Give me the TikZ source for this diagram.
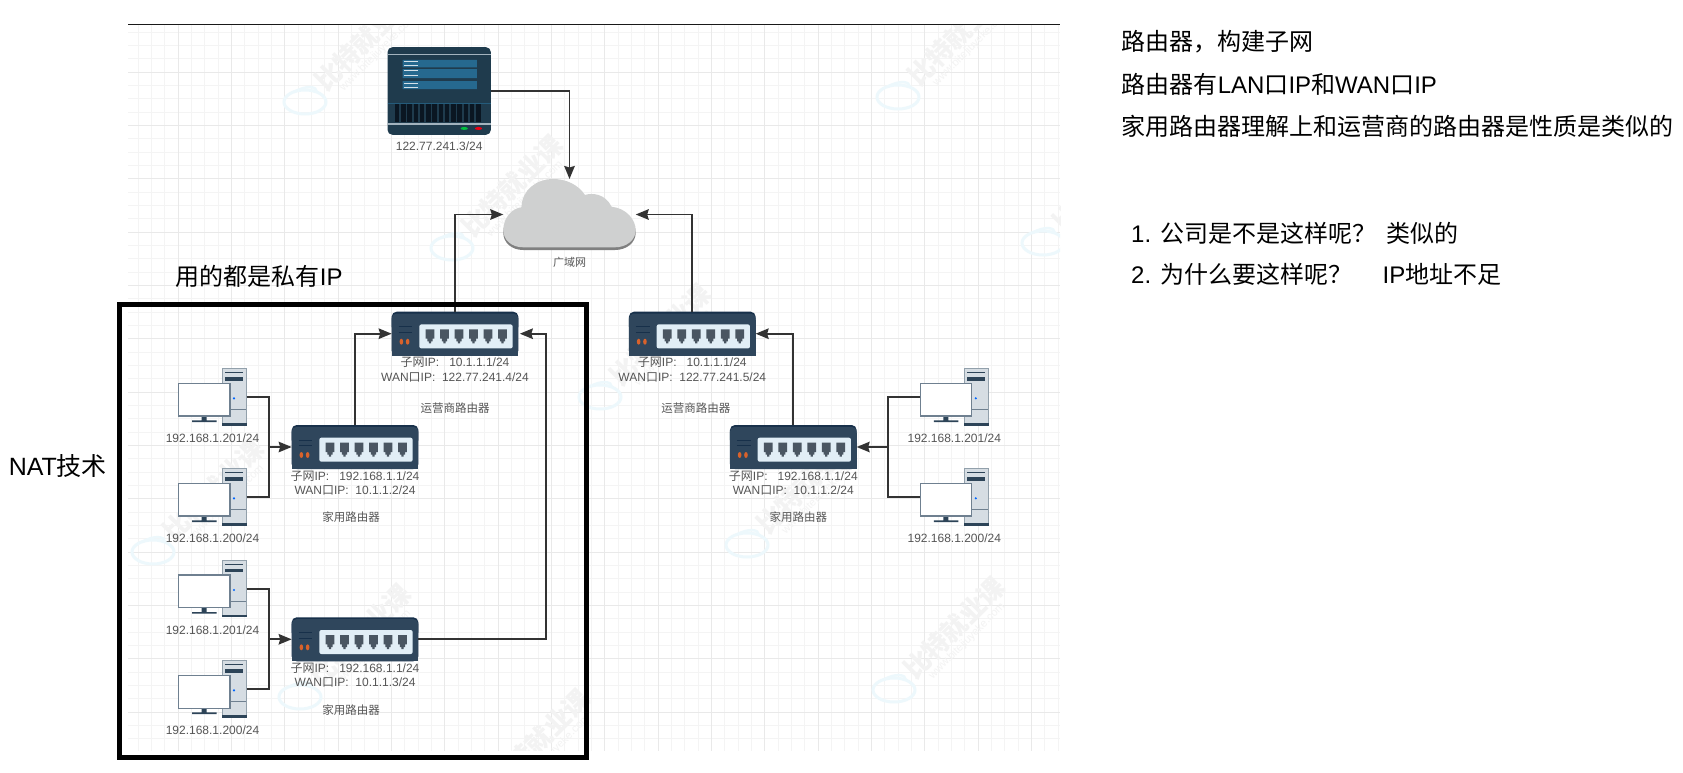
\documentclass[tikz,border=0pt]{standalone}
\usepackage{fontspec}
\usepackage{xcolor}
\usepackage{tikz}
\usetikzlibrary{positioning,arrows.meta}
\setmainfont{Liberation Sans}
\newfontfamily\cjkfont{Noto Sans CJK SC}
\newcommand{\zh}[1]{{\cjkfont #1}}
\definecolor{gridminor}{HTML}{F4F4F4}
\definecolor{gridmajor}{HTML}{E9E9E9}
\definecolor{markgray}{HTML}{F3F3F3}
\definecolor{markblue}{HTML}{EDF8FC}
\definecolor{linegray}{HTML}{333333}
\definecolor{labelgray}{HTML}{555555}
\definecolor{routerbody}{HTML}{2F465C}
\definecolor{routertop}{HTML}{17304A}
\definecolor{routerpanel}{HTML}{E1EEF6}
\definecolor{routerport}{HTML}{4A5662}
\definecolor{routerled}{HTML}{D9622B}
\definecolor{serverbody}{HTML}{1F3B4D}
\definecolor{serverbar}{HTML}{26698F}
\definecolor{serverline}{HTML}{A3B3BE}
\definecolor{servervent}{HTML}{0A1622}
\definecolor{towerbody}{HTML}{D6DDE3}
\definecolor{towerdark}{HTML}{2D4458}
\definecolor{screenline}{HTML}{6F8090}
\definecolor{cloudfill}{HTML}{CFD0D0}
\definecolor{cloudedge}{HTML}{808080}
\newcommand{\cloudpath}{(0,51) .. controls (0,39.3) and (8.3,29.3) .. (18.3,28.3) .. controls (18.3,11) and (33.3,0) .. (50,0) .. controls (63.3,0) and (75,6) .. (81.7,16) .. controls (88.3,13.7) and (101.7,14.3) .. (108.3,27.7) .. controls (123.3,29.3) and (132.4,41) .. (132.4,51) .. controls (132.4,61) and (123.3,68.3) .. (111.7,68.3) -- (20,68.3) .. controls (8.3,68.3) and (0,61) .. (0,51) -- cycle}
\tikzset{
    routericon/.pic={
        \fill[routertop, rounded corners=5pt] (0,44) -- (0,0) -- (126.7,0) -- (126.7,44) -- (100,44) -- cycle;
        \fill[routerbody] (0,8) rectangle (126.7,44);
        \fill[routerbody, rounded corners=5pt] (0,20) -- (0,1.8) -- (126.7,1.8) -- (126.7,20) -- cycle;
        \fill[routerpanel, rounded corners=2pt] (27.7,12.7) rectangle (121,36.7);
        \draw[routertop, line width=0.8pt] (7,15) -- (20.7,15) (7,20.7) -- (20.7,20.7);
        \fill[routerled] (9.7,30) ellipse (1.8 and 3) (16,30) ellipse (1.8 and 3);
        \foreach \portx in {38.3,52.8,67.3,81.8,96.3,110.8}
            \fill[routerport] (\portx-4.3,17.7) -- (\portx+4.3,17.7) -- (\portx+4.3,27) -- (\portx+2.6,27) -- (\portx+2.6,29.7) -- (\portx+1.2,29.7) -- (\portx+1.2,31.7) -- (\portx-1.2,31.7) -- (\portx-1.2,29.7) -- (\portx-2.6,29.7) -- (\portx-2.6,27) -- (\portx-4.3,27) -- cycle;
    },
    servericon/.pic={
        \fill[serverbody, rounded corners=5pt] (0,0) rectangle (103.4,87.7);
        \fill[serverline] (0,6.8) rectangle (103.4,8.2);
        \fill[serverline] (0,76.2) rectangle (103.4,78);
        \fill[serverbar] (15,12.7) rectangle (89.3,20.3) (15,22) rectangle (89.3,31) (15,34) rectangle (89.3,42);
        \draw[white!80!serverbar, line width=0.9pt] (16.7,14.3) -- (30.3,14.3) (16.7,18.7) -- (30.3,18.7) (16.7,23.7) -- (30.3,23.7) (16.7,28) -- (30.3,28) (16.7,36) -- (30.3,36) (16.7,40) -- (30.3,40);
        \draw[serverbar!70!serverbody, line width=0.6pt] (0,56) -- (103.4,56);
        \foreach \ventx in {7.5,13.74,...,90}
            \fill[servervent] (\ventx,57) rectangle +(4.4,18.3);
        \fill[green!50!teal] (76.7,81.3) ellipse (3.6 and 1.5);
        \fill[red!70!purple] (91,81.3) ellipse (3.6 and 1.5);
    },
    pcicon/.pic={
        \draw[towerbody!60!towerdark, fill=towerbody, line width=1pt] (43.9,0.5) rectangle (67.9,56.9);
        \fill[towerdark] (43.4,54.6) rectangle (68.4,57.4);
        \draw[towerdark, line width=0.7pt] (47,4.3) -- (65,4.3);
        \fill[towerdark] (47,9) rectangle (65,12.3);
        \draw[screenline, line width=0.5pt] (44,41) -- (68,41);
        \fill[blue!60!cyan] (55.7,30) circle (1.2);
        \fill[towerdark] (23.3,47) rectangle (28.3,52) (13.7,52) rectangle (38.3,53.7);
        \draw[screenline, fill=white, line width=1.1pt] (0.6,15) rectangle (51.7,47.7);
    },
    cloudicon/.pic={
        \fill[cloudedge, yshift=-2.7pt] \cloudpath;
        \fill[cloudfill] \cloudpath;
    },
    iconbox/.style={inner sep=0pt, outer sep=0pt},
    routerbox/.style={iconbox, minimum width=126.7pt, minimum height=44pt,
        append after command={pic at (\tikzlastnode.north west) {routericon}}},
    serverbox/.style={iconbox, minimum width=103.4pt, minimum height=87.7pt,
        append after command={pic at (\tikzlastnode.north west) {servericon}}},
    pcbox/.style={iconbox, minimum width=68.4pt, minimum height=57.4pt,
        append after command={pic at (\tikzlastnode.north west) {pcicon}}},
    cloudbox/.style={iconbox, minimum width=132.4pt, minimum height=71pt,
        append after command={pic at (\tikzlastnode.north west) {cloudicon}}},
    iplabel/.style={inner sep=0pt, font=\fontsize{12}{14.5}\selectfont, text=labelgray, align=center},
    zhlabel/.style={inner sep=0pt, font=\fontsize{11.5}{14}\selectfont\cjkfont, text=labelgray},
    notetext/.style={inner sep=0pt, anchor=west, font=\fontsize{24}{28}\selectfont},
    natbox/.style={draw=black, line width=5pt, minimum width=467pt, minimum height=452.8pt},
    link/.style={line width=1.8pt, color=linegray},
    arrow/.style={-{Stealth[length=13pt, width=10.5pt, inset=1.5pt]}, line width=1.8pt, color=linegray},
}
\begin{document}
\begin{tikzpicture}[x=1pt, y=-1pt]
    \useasboundingbox (0,0) rectangle (1683,773);
    \fill[white] (0,0) rectangle (1683,773);

    % drawing canvas
    \begin{scope}
        \clip (128,25) rectangle (1060,750.5);
        \foreach \gx in {138.3,151.63,...,1060}
            \draw[gridminor, line width=1pt] (\gx,25) -- (\gx,751);
        \foreach \gy in {32.3,45.63,...,751}
            \draw[gridminor, line width=1pt] (128,\gy) -- (1060,\gy);
        \foreach \gx in {178.3,231.63,...,1060}
            \draw[gridmajor, line width=1pt] (\gx,25) -- (\gx,751);
        \foreach \gy in {72.3,125.63,...,751}
            \draw[gridmajor, line width=1pt] (128,\gy) -- (1060,\gy);
        \foreach \wx/\wy in {305/102,898/97,452/248,1043/243,153/552,600/397,747/545,300/697,894/690,479/802}{
            \draw[markblue, line width=3pt] (\wx,\wy) ellipse (21 and 12);
            \draw[markblue, line width=2.5pt] (\wx-11,\wy-10) .. controls (\wx+1,\wy-17) and (\wx+12,\wy-16) .. (\wx+12,\wy-10);
            \node[rotate=45, text=markgray, font=\fontsize{26}{28}\selectfont\cjkfont\bfseries] (word\wx) at (\wx+60,\wy-62) {比特就业课};
            \node[rotate=45, text=markgray, font=\fontsize{11}{12}\selectfont] (site\wx) at (\wx+73,\wy-49) {www.bitejiuyeke.com};
        }
    \end{scope}
    \draw[black!90, line width=1pt] (128,25) -- (1060,25);

    % devices
    \node[serverbox] (server) at (439.2,91) {};
    \node[iplabel, below=7pt of server] (serverip) {122.77.241.3/24};
    \node[cloudbox] (wan) at (569.5,214.5) {};
    \node[zhlabel, font=\fontsize{11}{14}\selectfont\cjkfont, below=7pt of wan] (wanname) {广域网};

    \node[routerbox] (isp1) at (455,333.7) {};
    \node[routerbox, right=110.6pt of isp1] (isp2) {};
    \node[routerbox] (home1) at (355,447) {};
    \node[routerbox] (home2) at (355,639.3) {};
    \node[routerbox] (home3) at (793.3,447) {};

    \node[iplabel, below=1.5pt of isp1] (isp1ip) {\zh{子网}IP:~~~10.1.1.1/24\\WAN\zh{口}IP:~~122.77.241.4/24};
    \node[zhlabel, below=20.5pt of isp1ip] (isp1name) {运营商路由器};
    \node[iplabel, below=1.5pt of isp2] (isp2ip) {\zh{子网}IP:~~~10.1.1.1/24\\WAN\zh{口}IP:~~122.77.241.5/24};
    \node[zhlabel, below=20.5pt of isp2ip, xshift=3.5pt] (isp2name) {运营商路由器};
    \node[iplabel, below=1.5pt of home1] (home1ip) {\zh{子网}IP:~~~192.168.1.1/24\\WAN\zh{口}IP:~~10.1.1.2/24};
    \node[zhlabel, below=16.5pt of home1ip, xshift=-4pt] (home1name) {家用路由器};
    \node[iplabel, below=1.5pt of home2] (home2ip) {\zh{子网}IP:~~~192.168.1.1/24\\WAN\zh{口}IP:~~10.1.1.3/24};
    \node[zhlabel, below=16.5pt of home2ip, xshift=-4pt] (home2name) {家用路由器};
    \node[iplabel, below=1.5pt of home3] (home3ip) {\zh{子网}IP:~~~192.168.1.1/24\\WAN\zh{口}IP:~~10.1.1.2/24};
    \node[zhlabel, below=16.5pt of home3ip, xshift=5pt] (home3name) {家用路由器};

    \node[pcbox] (pc1) at (212.5,397) {};
    \node[iplabel, below=8pt of pc1] (pc1ip) {192.168.1.201/24};
    \node[pcbox, below=42.6pt of pc1] (pc2) {};
    \node[iplabel, below=8pt of pc2] (pc2ip) {192.168.1.200/24};
    \node[pcbox] (pc3) at (212.5,588.7) {};
    \node[iplabel, below=8pt of pc3] (pc3ip) {192.168.1.201/24};
    \node[pcbox, below=43pt of pc3] (pc4) {};
    \node[iplabel, below=8pt of pc4] (pc4ip) {192.168.1.200/24};
    \node[pcbox] (pc5) at (954.3,397) {};
    \node[iplabel, below=8pt of pc5] (pc5ip) {192.168.1.201/24};
    \node[pcbox, below=42.6pt of pc5] (pc6) {};
    \node[iplabel, below=8pt of pc6] (pc6ip) {192.168.1.200/24};

    % connectors
    \coordinate[left=22.4pt of home1] (join1);
    \coordinate[left=22.4pt of home2] (join2);
    \coordinate[right=31.6pt of home3] (join3);
    \coordinate[right=27.7pt of isp1] (hop);
    \draw[link] (pc1.east) -| (join1);
    \draw[link] (pc2.east) -| (join1);
    \draw[arrow] (join1) -- (home1.west);
    \draw[link] (pc3.east) -| (join2);
    \draw[link] (pc4.east) -| (join2);
    \draw[arrow] (join2) -- (home2.west);
    \draw[link] (pc5.west) -| (join3);
    \draw[link] (pc6.west) -| (join3);
    \draw[arrow] (join3) -- (home3.east);
    \draw[arrow] (home1.north) |- (isp1.west);
    \draw[arrow, shorten >=1.5pt] (home2.east) -| (hop) -- (isp1.east);
    \draw[arrow] (home3.north) |- (isp2.east);
    \draw[arrow] (isp1.north) |- (wan.west);
    \draw[arrow] (isp2.north) |- (wan.east);
    \draw[arrow] (server.east) -| (wan.north);

    % private side
    \node[natbox] (natarea) at (353,531.1) {};
    \node[notetext] (privatenote) at (175.7,276.7) {\zh{用的都是私有}IP};
    \node[notetext, font=\fontsize{25}{28}\selectfont] (natnote) at (8.6,466) {NAT\zh{技术}};

    % notes on the right
    \node[notetext] (note1) at (1121.6,42) {\zh{路由器，构建子网}};
    \node[notetext] (note2) at (1121.6,84.5) {\zh{路由器有}LAN\zh{口}IP\zh{和}WAN\zh{口}IP};
    \node[notetext] (note3) at (1121.6,126) {\zh{家用路由器理解上和运营商的路由器是性质是类似的}};
    \node[notetext] (ask1) at (1131,233) {1. \zh{公司是不是这样呢？}};
    \node[notetext] (answer1) at (1386.7,233) {\zh{类似的}};
    \node[notetext] (ask2) at (1131,274) {2. \zh{为什么要这样呢？}};
    \node[notetext] (answer2) at (1382.4,274) {IP\zh{地址不足}};
\end{tikzpicture}
\end{document}
